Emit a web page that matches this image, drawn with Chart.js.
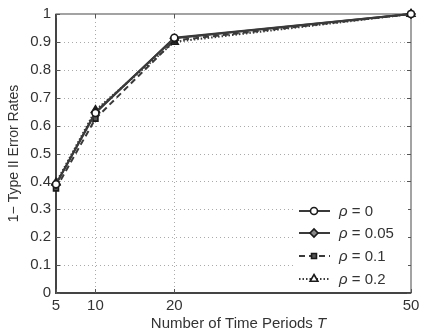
<!DOCTYPE html>
<html>
<head>
<meta charset="utf-8">
<script src="https://cdn.jsdelivr.net/npm/chart.js@4/dist/chart.umd.min.js"></script>
<style>
html,body{margin:0;padding:0;background:#fff;}
#wrap{width:424px;height:335px;position:relative;}
</style>
</head>
<body>
<div id="wrap"><canvas id="c" width="424" height="335"></canvas></div>
<script>
const periods = [5, 10, 20, 50];
const xTicks = [5, 10, 20, 50];
const yTicks = [0, 0.1, 0.2, 0.3, 0.4, 0.5, 0.6, 0.7, 0.8, 0.9, 1];
const rho0   = [0.39, 0.645, 0.915, 1.0];
const rho005 = [0.39, 0.648, 0.913, 1.0];
const rho01  = [0.375, 0.625, 0.905, 1.0];
const rho02  = [0.395, 0.655, 0.90, 1.0];
const seriesLabels = ['0', '0.05', '0.1', '0.2'];

const FONT = '"Liberation Sans", Arial, Helvetica, sans-serif';
const lineCol = '#3a3a3a';

function pts(vals){ return vals.map((v,i)=>({x:periods[i], y:v})); }

const styles = [
  {data: rho0,   dash: [],     pointStyle:'circle',  bg:'#fff',  r:3.5},
  {data: rho005, dash: [],     pointStyle:'rectRot', bg:'#888',  r:4},
  {data: rho01,  dash: [6,4],  pointStyle:'rect',    bg:'#555',  r:3.5},
  {data: rho02,  dash: [1.5,2],pointStyle:'triangle',bg:'#fff',  r:4.5}
];

const datasets = styles.map((s,i)=>({
  label: 'ρ = ' + seriesLabels[i],
  data: pts(s.data),
  borderColor: lineCol,
  borderWidth: 2,
  borderDash: s.dash,
  pointStyle: s.pointStyle,
  pointRadius: s.r,
  pointBackgroundColor: s.bg,
  pointBorderColor: '#1a1a1a',
  pointBorderWidth: 1.6,
  tension: 0,
  fill: false,
  clip: false
}));

const gridPlugin = {
  id: 'dotgrid',
  beforeDatasetsDraw(chart){
    const {ctx, chartArea:a, scales} = chart;
    ctx.save();
    ctx.strokeStyle = '#aaa';
    ctx.lineWidth = 1;
    ctx.setLineDash([1,3]);
    yTicks.slice(1, -1).forEach(v=>{
      const y = Math.round(scales.y.getPixelForValue(v))+0.5;
      ctx.beginPath(); ctx.moveTo(a.left, y); ctx.lineTo(a.right, y); ctx.stroke();
    });
    xTicks.slice(1, -1).forEach(v=>{
      const x = Math.round(scales.x.getPixelForValue(v))+0.5;
      ctx.beginPath(); ctx.moveTo(x, a.top); ctx.lineTo(x, a.bottom); ctx.stroke();
    });
    // frame
    ctx.setLineDash([]);
    ctx.strokeStyle = '#666';
    ctx.lineWidth = 1.2;
    ctx.strokeRect(a.left, a.top, a.right-a.left, a.bottom-a.top);
    ctx.strokeStyle = '#444';
    ctx.lineWidth = 2;
    ctx.beginPath();
    ctx.moveTo(a.left, a.top); ctx.lineTo(a.left, a.bottom); ctx.lineTo(a.right, a.bottom);
    ctx.stroke();
    // inside tick marks
    ctx.strokeStyle = '#555';
    ctx.lineWidth = 1;
    yTicks.forEach(v=>{
      const y = Math.round(scales.y.getPixelForValue(v))+0.5;
      ctx.beginPath();
      ctx.moveTo(a.left, y); ctx.lineTo(a.left+4, y);
      ctx.moveTo(a.right, y); ctx.lineTo(a.right-4, y);
      ctx.stroke();
    });
    xTicks.forEach(v=>{
      const x = Math.round(scales.x.getPixelForValue(v))+0.5;
      ctx.beginPath();
      ctx.moveTo(x, a.bottom); ctx.lineTo(x, a.bottom-4);
      ctx.moveTo(x, a.top); ctx.lineTo(x, a.top+4);
      ctx.stroke();
    });
    ctx.restore();
  }
};

const framePlugin = {
  id: 'frame',
  afterDraw(chart){
    const {ctx, chartArea:a} = chart;
    ctx.save();
    // legend
    const lx0 = a.right - 115, ly0 = a.bottom - 93;
    ctx.fillStyle = '#fff';
    ctx.fillRect(lx0, ly0, 112, 90);
    const rowY = [211, 233, 256, 279];
    chart.data.datasets.forEach((ds,i)=>{
      const y = rowY[i];
      const x1 = 299, x2 = 330, xm = 314;
      ctx.strokeStyle = lineCol;
      ctx.lineWidth = 2;
      ctx.setLineDash(ds.borderDash);
      ctx.beginPath(); ctx.moveTo(x1, y); ctx.lineTo(x2, y); ctx.stroke();
      ctx.setLineDash([]);
      ctx.fillStyle = ds.pointBackgroundColor;
      ctx.strokeStyle = ds.pointBorderColor;
      ctx.lineWidth = ds.pointBorderWidth;
      Chart.helpers.drawPoint(ctx, {pointStyle: ds.pointStyle, radius: ds.pointRadius, borderWidth: ds.pointBorderWidth}, xm, y);
      ctx.fillStyle = '#333';
      ctx.textBaseline = 'middle';
      ctx.textAlign = 'left';
      ctx.font = 'italic 15px ' + FONT;
      ctx.fillText('ρ', 339, y+1);
      const w = ctx.measureText('ρ').width;
      ctx.font = '15px ' + FONT;
      ctx.fillText(' = ' + seriesLabels[i], 339 + w, y+1);
    });

    // x axis title with italic T
    ctx.fillStyle = '#333';
    ctx.textBaseline = 'middle';
    ctx.textAlign = 'left';
    ctx.font = '15px ' + FONT;
    const t1 = 'Number of Time Periods ';
    const w1 = ctx.measureText(t1).width;
    ctx.font = 'italic 15px ' + FONT;
    const w2 = ctx.measureText('T').width;
    const cx = (a.left + a.right)/2 + 5;
    const sx = cx - (w1+w2)/2;
    ctx.font = '15px ' + FONT;
    ctx.fillText(t1, sx, 324);
    ctx.font = 'italic 15px ' + FONT;
    ctx.fillText('T', sx + w1, 324);
    ctx.restore();
  }
};

new Chart(document.getElementById('c'), {
  type: 'line',
  data: { datasets },
  plugins: [gridPlugin, framePlugin],
  options: {
    responsive: false,
    animation: false,
    devicePixelRatio: 1,
    layout: { padding: {top: 13, right: 13, left: 0, bottom: 0} },
    plugins: { legend: {display: false}, tooltip: {enabled: false} },
    scales: {
      x: {
        type: 'linear',
        min: 5, max: 50,
        afterBuildTicks(scale){ scale.ticks = xTicks.map(v=>({value:v})); },
        afterFit(scale){ scale.height = 42; },
        grid: { display: false, drawTicks: false, tickLength: 0 },
        border: { display: false },
        ticks: { color: '#333', font: {family: FONT, size: 15}, padding: 4, maxRotation: 0, autoSkip: false,
                 callback: v => String(v) }
      },
      y: {
        min: 0, max: 1,
        afterBuildTicks(scale){ scale.ticks = yTicks.map(v=>({value:v})); },
        afterFit(scale){ scale.width = 56; },
        grid: { display: false, drawTicks: false, tickLength: 0 },
        border: { display: false },
        ticks: { color: '#333', font: {family: FONT, size: 15}, padding: 5,
                 callback: v => String(Math.round(v*10)/10) },
        title: { display: true, text: '1− Type II Error Rates', color: '#333', font: {family: FONT, size: 14}, padding: {top: 6, bottom: 0} }
      }
    }
  }
});
</script>
</body>
</html>
